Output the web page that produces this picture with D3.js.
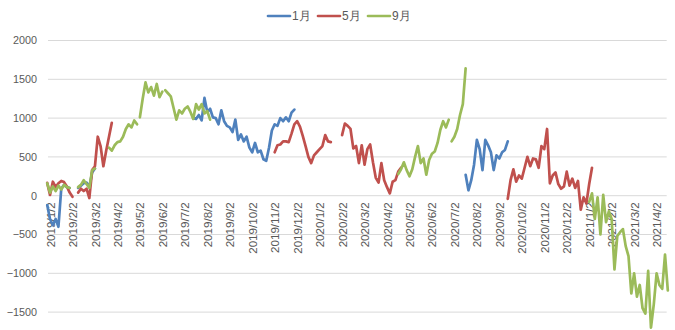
<!DOCTYPE html>
<html>
<head>
<meta charset="utf-8">
<script src="https://cdn.jsdelivr.net/npm/d3@7"></script>
<style>
  body { margin: 0; background: #fff; }
  svg { display: block; }
  text { font-family: "Liberation Sans", Arial, sans-serif; fill: #595959; }
</style>
</head>
<body>
<svg id="chart" width="675" height="330"></svg>
<script>
// Category labels along the bottom axis (one per month)
const monthLabels = [
  "2019/1/2","2019/2/2","2019/3/2","2019/4/2","2019/5/2","2019/6/2","2019/7/2",
  "2019/8/2","2019/9/2","2019/10/2","2019/11/2","2019/12/2","2020/1/2","2020/2/2",
  "2020/3/2","2020/4/2","2020/5/2","2020/6/2","2020/7/2","2020/8/2","2020/9/2",
  "2020/10/2","2020/11/2","2020/12/2","2021/1/2","2021/2/2","2021/3/2","2021/4/2"
];
const yTicks = [-1500, -1000, -500, 0, 500, 1000, 1500, 2000];

const seriesNames = ["1月", "5月", "9月"];
const seriesColors = ["#4F81BD", "#C0504D", "#9BBB59"];

// Sampling interval of the series, in months
const STEP = 1 / 8;

// Each segment: start (months after 2019/1/2) and consecutive values
const janSegments = [
  { start: -0.125, values: [-120, -300, -380, -300, -400, 90, 140, 110, 100] },
  { start: 1.25, values: [100, 130, 160, 170, 110, 300, 350] },
  { start: 6.375, values: [1000, 990, 1040, 970, 1260, 1080, 1120, 1010, 1000, 920, 1100, 960, 900, 880, 820, 980, 720, 790, 700, 760, 620, 560, 680, 560, 580, 470, 450, 620, 840, 920, 900, 1000, 960, 1010, 960, 1070, 1110] },
  { start: 18.5, values: [270, 70, 200, 400, 720, 600, 330, 720, 650, 560, 330, 520, 480, 560, 590, 700] }
];
const maySegments = [
  { start: -0.125, values: [165, 10, 180, 110, 160, 190, 175, 120, 40, -15] },
  { start: 1.25, values: [40, 90, 60, 90, -30, 330, 380, 760, 640, 380, 580, 760, 940] },
  { start: 10.0, values: [560, 650, 660, 700, 700, 690, 800, 920, 960, 890, 770, 640, 500, 420, 520, 560, 600, 640, 780, 700, 690] },
  { start: 13.0, values: [780, 930, 900, 860, 610, 640, 420, 650, 400, 600, 660, 430, 230, 170, 420, 200, 110, 30, 180, 200, 310, 360] },
  { start: 20.375, values: [-40, 200, 340, 180, 260, 220, 360, 500, 380, 480, 470, 360, 640, 600, 860, 160, 260, 300, 150, 90, 120, 310, 130, 220, 100, 190, -180, -20, -100, 150, 360] }
];
const sepSegments = [
  { start: -0.125, values: [160, 40, 120, 60, 130, 80, 140, 110, 100] },
  { start: 1.25, values: [110, 140, 200, 150, 100, 330, 350] },
  { start: 2.625, values: [620, 580, 650, 690, 700, 760, 860, 920, 880, 970, 920] },
  { start: 4.0, values: [1010, 1250, 1460, 1330, 1400, 1290, 1440, 1270, 1340] },
  { start: 5.125, values: [1360, 1320, 1280, 1130, 980, 1100, 1060, 1120, 1150, 1080, 990, 1180, 1110, 1180, 1060, 1090, 980] },
  { start: 15.5, values: [280, 340, 430, 330, 250, 340, 500, 640, 420, 480, 270, 460, 540, 570, 680, 850, 960, 880, 980] },
  { start: 17.875, values: [700, 760, 860, 1040, 1180, 1640] },
  { start: 24.0, values: [-80, 30, -300, -20, -500, 10, -340, -200, -300, -950, -520, -470, -430, -650, -780, -1260, -1000, -1300, -1150, -1450, -1520, -970, -1700, -1400, -1000, -1150, -1200, -760, -1220] }
];

const allSeries = [janSegments, maySegments, sepSegments];

const svg = d3.select("#chart");
const plotLeft = 48, plotRight = 666.7;

const x = d3.scaleLinear().domain([-0.09, 27.45]).range([plotLeft, plotRight]);
const y = d3.scaleLinear().domain([-2000, 2000]).range([350.9, 40.5]);

// Horizontal gridlines
svg.append("g")
  .selectAll("line")
  .data(yTicks)
  .join("line")
  .attr("x1", plotLeft).attr("x2", plotRight)
  .attr("y1", d => y(d)).attr("y2", d => y(d))
  .attr("stroke", "#d9d9d9").attr("stroke-width", 1);

// Value axis labels
const yAxis = svg.append("g")
  .attr("transform", "translate(" + (plotLeft - 11) + ",0)")
  .call(d3.axisLeft(y).tickValues(yTicks).tickFormat(d3.format("d")).tickSize(0).tickPadding(0));
yAxis.select(".domain").remove();
yAxis.selectAll("text")
  .style("font-family", '"Liberation Sans", Arial, sans-serif')
  .style("font-size", "10.8px")
  .attr("fill", "#595959");

// Category axis labels, rotated, hanging below the zero line
const xAxis = svg.append("g")
  .attr("transform", "translate(0," + y(0) + ")")
  .call(d3.axisBottom(x)
    .tickValues(d3.range(monthLabels.length))
    .tickFormat(i => monthLabels[i])
    .tickSize(0));
xAxis.select(".domain").remove();
xAxis.selectAll("text")
  .attr("transform", "rotate(-90)")
  .attr("text-anchor", "end")
  .attr("x", -6.5)
  .attr("y", 0)
  .attr("dy", "0.35em")
  .style("font-family", '"Liberation Sans", Arial, sans-serif')
  .style("font-size", "11.6px")
  .attr("fill", "#595959");

// Series lines (segments break where data is missing)
const line = d3.line()
  .x(d => x(d.m))
  .y(d => y(d.v));

allSeries.forEach((segments, si) => {
  const g = svg.append("g");
  segments.forEach(seg => {
    const pts = seg.values.map((v, i) => ({ m: seg.start + i * STEP, v }));
    g.append("path")
      .datum(pts)
      .attr("d", line)
      .attr("fill", "none")
      .attr("stroke", seriesColors[si])
      .attr("stroke-width", 2.7)
      .attr("stroke-linejoin", "round")
      .attr("stroke-linecap", "round");
  });
});

// Legend
const legend = svg.append("g").attr("transform", "translate(268,16)");
seriesNames.forEach((name, i) => {
  const item = legend.append("g").attr("transform", "translate(" + (i * 50) + ",0)");
  item.append("line")
    .attr("x1", 0).attr("x2", 22).attr("y1", 0).attr("y2", 0)
    .attr("stroke", seriesColors[i]).attr("stroke-width", 2.7)
    .attr("stroke-linecap", "round");
  item.append("text")
    .attr("x", 24).attr("y", 0).attr("dy", "0.35em")
    .style("font-size", "12px")
    .text(name);
});
</script>
</body>
</html>
